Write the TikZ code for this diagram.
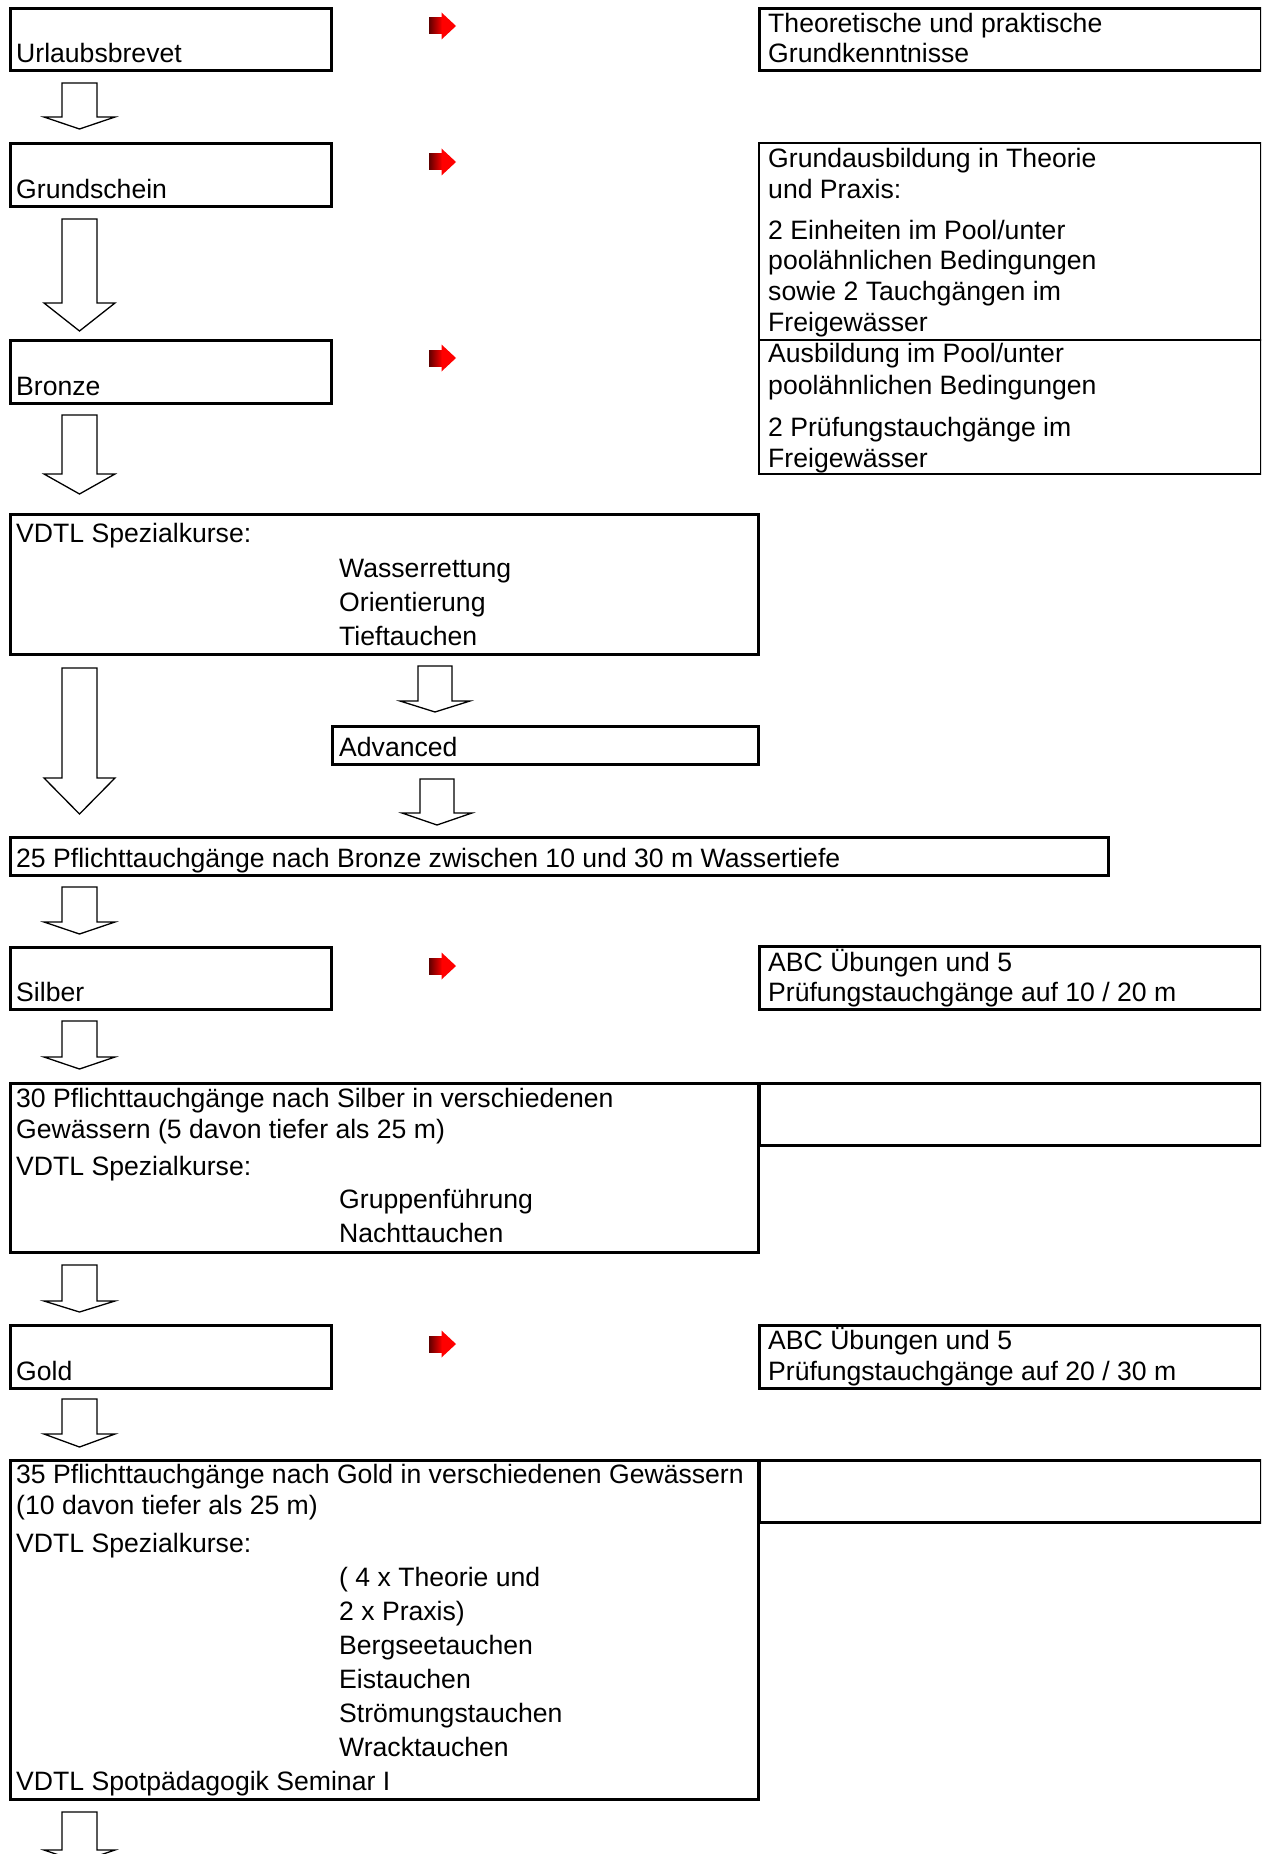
\documentclass[tikz,border=0pt]{standalone}
\usepackage{fontspec}
\setmainfont{Liberation Sans}
\definecolor{darkred}{RGB}{96,0,0}
\definecolor{brightred}{RGB}{255,0,0}
\tikzset{
  box/.style={draw=black, line width=3pt, inner sep=0pt, anchor=north west, rectangle},
  divbox/.style={box, line width=2.4pt},
  txt/.style={anchor=base west, inner sep=0pt, font=\fontsize{26.6}{30}\selectfont},
  blockarrow/.style={draw=black, line width=1.3pt, fill=white, line join=miter},
}
% box: name, x1, y1, x2, y2 (path coordinates)
\newcommand\mybox[6][box]{\node[#1, minimum width={#5-#3}, minimum height={#6-#4}] (#2) at (#3,#4) {};}
% text: name, x, baseline, text
\newcommand\tx[4]{\node[txt] (#1) at (#2,#3) {#4};}
% block arrow: cx, top, base, tip, shaft half width, head half width
\newcommand\barrow[6]{\draw[blockarrow] ({#1-#5},#2) -- ({#1+#5},#2) -- ({#1+#5},#3) -- ({#1+#6},#3) -- (#1,#4) -- ({#1-#6},#3) -- ({#1-#5},#3) -- cycle;}
% red arrow centred at y
\newcommand\redarrow[1]{%
  \shade[left color=darkred, right color=brightred] (429,{#1-8}) rectangle (442.5,{#1+8});
  \fill[brightred] (441.5,{#1-13.5}) -- (456,#1) -- (441.5,{#1+13.5}) -- cycle;}
\begin{document}
\begin{tikzpicture}[x=1pt,y=-1pt]
\useasboundingbox (0,0) rectangle (1261,1854);
\clip (0,0) rectangle (1261,1854);

% ---- left column boxes
\mybox{urlaub}{8.5}{7}{329.5}{69.5}
\mybox{grund}{8.5}{142}{329.5}{204.5}
\mybox{bronze}{8.5}{339}{329.5}{401.5}
\mybox{vdtla}{8.5}{513}{757}{652.5}
\mybox{adv}{331}{725}{757}{762.5}
\mybox{ptwfive}{8.5}{836}{1107}{873.5}
\mybox{silber}{8.5}{945.5}{329.5}{1008}
\mybox{pthirty}{8.5}{1082}{757}{1250.5}
\mybox{gold}{8.5}{1324}{329.5}{1386.5}
\mybox{pthfive}{8.5}{1459}{757}{1798}

% ---- right column boxes
\mybox{ra}{758}{7}{1259.5}{69.5}
\mybox[divbox]{rb}{758}{142}{1259.5}{339}
\mybox[divbox]{rc}{758}{339}{1259.5}{473}
\mybox{rs}{758}{945}{1259.5}{1008}
\mybox{rthirty}{758}{1082}{1259.5}{1144}
\mybox{rg}{758}{1324}{1259.5}{1386.5}
\mybox{rthfive}{758}{1459}{1259.5}{1521}

% ---- red arrows
\redarrow{26}
\redarrow{162}
\redarrow{358}
\redarrow{966}
\redarrow{1344}

% ---- hollow block arrows
\barrow{79.5}{83}{117}{129}{17.5}{35.5}
\barrow{79.5}{219}{303}{331}{17.5}{35.5}
\barrow{79.5}{415}{474}{494}{17.5}{35.5}
\barrow{79.5}{668}{778}{814}{17.5}{35.5}
\barrow{435}{666}{701}{712}{17}{35}
\barrow{437}{779}{813}{825}{17}{35}
\barrow{79.5}{887}{922}{934}{17.5}{35.5}
\barrow{79.5}{1021}{1057}{1069}{17.5}{35.5}
\barrow{79.5}{1265}{1301}{1312}{17.5}{35.5}
\barrow{79.5}{1399}{1434}{1447}{17.5}{35.5}
\barrow{79.5}{1812}{1850}{1862}{17.5}{35.5}

% ---- left texts
\tx{t1}{16}{63}{Urlaubsbrevet}
\tx{t2}{16}{198}{Grundschein}
\tx{t3}{16}{395}{Bronze}
\tx{t4}{16}{542}{VDTL Spezialkurse:}
\tx{t5}{339}{577}{Wasserrettung}
\tx{t6}{339}{611}{Orientierung}
\tx{t7}{339}{645}{Tieftauchen}
\tx{t8}{339}{756}{Advanced}
\tx{t9}{16}{867}{25 Pflichttauchgänge nach Bronze zwischen 10 und 30 m Wassertiefe}
\tx{t10}{16}{1001}{Silber}
\tx{t11}{16}{1107}{30 Pflichttauchgänge nach Silber in verschiedenen}
\tx{t12}{16}{1138}{Gewässern (5 davon tiefer als 25 m)}
\tx{t13}{16}{1175}{VDTL Spezialkurse:}
\tx{t14}{339}{1208}{Gruppenführung}
\tx{t15}{339}{1242}{Nachttauchen}
\tx{t16}{16}{1380}{Gold}
\tx{t17}{16}{1483}{35 Pflichttauchgänge nach Gold in verschiedenen Gewässern}
\tx{t18}{16}{1514}{(10 davon tiefer als 25 m)}
\tx{t19}{16}{1552}{VDTL Spezialkurse:}
\tx{t20}{339}{1586}{( 4 x Theorie und}
\tx{t21}{339}{1620}{2 x Praxis)}
\tx{t22}{339}{1654}{Bergseetauchen}
\tx{t23}{339}{1688}{Eistauchen}
\tx{t24}{339}{1722}{Strömungstauchen}
\tx{t25}{339}{1756}{Wracktauchen}
\tx{t26}{16}{1790}{VDTL Spotpädagogik Seminar I}

% ---- right texts
\tx{r1}{768}{33}{Theoretische und praktische}
\tx{r2}{768}{63}{Grundkenntnisse}
\tx{r3}{768}{168}{Grundausbildung in Theorie}
\tx{r4}{768}{199}{und Praxis:}
\tx{r5}{768}{239}{2 Einheiten im Pool/unter}
\tx{r6}{768}{269}{poolähnlichen Bedingungen}
\tx{r7}{768}{300}{sowie 2 Tauchgängen im}
\tx{r8}{768}{331}{Freigewässer}
\tx{r9}{768}{362}{Ausbildung im Pool/unter}
\tx{r10}{768}{394}{poolähnlichen Bedingungen}
\tx{r11}{768}{436}{2 Prüfungstauchgänge im}
\tx{r12}{768}{467}{Freigewässer}
\tx{r13}{768}{971}{ABC Übungen und 5}
\tx{r14}{768}{1001}{Prüfungstauchgänge auf 10 / 20 m}
\tx{r15}{768}{1349}{ABC Übungen und 5}
\tx{r16}{768}{1380}{Prüfungstauchgänge auf 20 / 30 m}
\end{tikzpicture}
\end{document}
